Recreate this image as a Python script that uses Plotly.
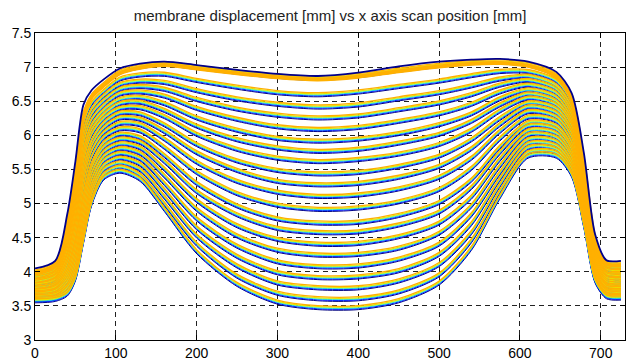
import plotly.graph_objects as go

# scan positions along x [mm] where the profile was read
x_pos = [0, 25, 40, 50, 60, 70, 85, 105, 130, 160, 200, 250, 300, 350, 400, 450,
         500, 540, 575, 610, 645, 664, 679, 693, 707, 725]

# membrane displacement [mm] per pressure step (top = highest)
band_y = [
    [4.00, 4.12, 4.70, 5.45, 6.30, 6.58, 6.75, 6.93, 7.01, 7.05, 7.00, 6.93, 6.87, 6.84, 6.88, 6.96, 7.03, 7.07, 7.08, 7.04, 6.88, 6.55, 5.60, 4.47, 4.14, 4.12],
    [3.97, 4.08, 4.63, 5.34, 6.17, 6.47, 6.65, 6.83, 6.89, 6.90, 6.81, 6.71, 6.63, 6.60, 6.64, 6.72, 6.80, 6.88, 6.94, 6.94, 6.80, 6.47, 5.53, 4.43, 4.10, 4.08],
    [3.95, 4.05, 4.57, 5.26, 6.07, 6.38, 6.58, 6.75, 6.80, 6.78, 6.66, 6.54, 6.46, 6.42, 6.45, 6.54, 6.63, 6.73, 6.83, 6.87, 6.73, 6.41, 5.48, 4.39, 4.08, 4.06],
    [3.93, 4.03, 4.52, 5.18, 5.98, 6.31, 6.51, 6.68, 6.72, 6.68, 6.53, 6.39, 6.30, 6.26, 6.29, 6.38, 6.48, 6.60, 6.74, 6.81, 6.68, 6.35, 5.44, 4.37, 4.05, 4.03],
    [3.91, 4.00, 4.47, 5.10, 5.89, 6.23, 6.44, 6.61, 6.64, 6.58, 6.40, 6.24, 6.13, 6.09, 6.12, 6.21, 6.32, 6.46, 6.64, 6.74, 6.62, 6.30, 5.39, 4.34, 4.03, 4.01],
    [3.88, 3.98, 4.42, 5.03, 5.79, 6.15, 6.37, 6.53, 6.56, 6.47, 6.26, 6.08, 5.96, 5.92, 5.95, 6.03, 6.16, 6.32, 6.54, 6.67, 6.56, 6.24, 5.35, 4.31, 4.00, 3.98],
    [3.87, 3.95, 4.38, 4.96, 5.71, 6.08, 6.31, 6.47, 6.49, 6.37, 6.14, 5.94, 5.82, 5.77, 5.80, 5.89, 6.02, 6.21, 6.45, 6.61, 6.50, 6.19, 5.31, 4.28, 3.98, 3.96],
    [3.85, 3.93, 4.33, 4.89, 5.63, 6.01, 6.25, 6.40, 6.41, 6.28, 6.02, 5.80, 5.67, 5.62, 5.65, 5.73, 5.87, 6.08, 6.36, 6.55, 6.45, 6.14, 5.27, 4.25, 3.96, 3.94],
    [3.82, 3.90, 4.27, 4.80, 5.53, 5.92, 6.18, 6.33, 6.32, 6.16, 5.87, 5.63, 5.49, 5.44, 5.46, 5.55, 5.70, 5.94, 6.25, 6.48, 6.39, 6.08, 5.22, 4.22, 3.93, 3.91],
    [3.81, 3.88, 4.23, 4.73, 5.44, 5.85, 6.11, 6.26, 6.24, 6.06, 5.75, 5.49, 5.33, 5.28, 5.30, 5.39, 5.55, 5.81, 6.16, 6.42, 6.33, 6.03, 5.17, 4.19, 3.91, 3.89],
    [3.78, 3.85, 4.17, 4.65, 5.35, 5.77, 6.04, 6.18, 6.16, 5.95, 5.61, 5.33, 5.17, 5.11, 5.13, 5.22, 5.39, 5.67, 6.06, 6.35, 6.27, 5.97, 5.13, 4.16, 3.88, 3.86],
    [3.76, 3.82, 4.12, 4.56, 5.24, 5.68, 5.97, 6.10, 6.07, 5.83, 5.46, 5.15, 4.98, 4.92, 4.94, 5.03, 5.21, 5.52, 5.95, 6.27, 6.21, 5.90, 5.07, 4.13, 3.85, 3.83],
    [3.73, 3.79, 4.06, 4.47, 5.13, 5.58, 5.89, 6.02, 5.97, 5.71, 5.30, 4.97, 4.78, 4.72, 4.73, 4.83, 5.02, 5.35, 5.83, 6.19, 6.14, 5.84, 5.02, 4.09, 3.82, 3.80],
    [3.72, 3.77, 4.01, 4.41, 5.05, 5.52, 5.83, 5.95, 5.90, 5.62, 5.18, 4.84, 4.64, 4.58, 4.59, 4.69, 4.88, 5.24, 5.75, 6.14, 6.09, 5.79, 4.98, 4.07, 3.80, 3.78],
    [3.70, 3.74, 3.96, 4.33, 4.96, 5.44, 5.76, 5.88, 5.82, 5.51, 5.05, 4.68, 4.48, 4.41, 4.42, 4.52, 4.72, 5.10, 5.65, 6.07, 6.03, 5.73, 4.93, 4.04, 3.78, 3.76],
    [3.68, 3.72, 3.91, 4.25, 4.87, 5.36, 5.69, 5.81, 5.74, 5.41, 4.92, 4.53, 4.32, 4.25, 4.26, 4.35, 4.57, 4.97, 5.55, 6.01, 5.97, 5.68, 4.89, 4.01, 3.75, 3.73],
    [3.66, 3.69, 3.86, 4.18, 4.78, 5.28, 5.63, 5.74, 5.66, 5.30, 4.78, 4.38, 4.15, 4.08, 4.09, 4.19, 4.41, 4.84, 5.45, 5.94, 5.91, 5.62, 4.84, 3.98, 3.73, 3.71],
    [3.64, 3.67, 3.81, 4.10, 4.69, 5.21, 5.56, 5.67, 5.58, 5.20, 4.65, 4.23, 3.99, 3.92, 3.93, 4.02, 4.26, 4.71, 5.36, 5.88, 5.85, 5.57, 4.80, 3.95, 3.71, 3.69],
    [3.62, 3.64, 3.77, 4.03, 4.61, 5.14, 5.50, 5.60, 5.50, 5.10, 4.53, 4.09, 3.84, 3.77, 3.77, 3.87, 4.11, 4.58, 5.27, 5.82, 5.80, 5.52, 4.76, 3.92, 3.68, 3.66],
    [3.60, 3.62, 3.72, 3.96, 4.52, 5.06, 5.43, 5.54, 5.42, 5.00, 4.41, 3.94, 3.69, 3.61, 3.61, 3.71, 3.96, 4.46, 5.18, 5.75, 5.75, 5.46, 4.72, 3.89, 3.66, 3.64],
    [3.58, 3.60, 3.68, 3.90, 4.45, 5.00, 5.38, 5.48, 5.36, 4.92, 4.30, 3.82, 3.56, 3.48, 3.48, 3.58, 3.84, 4.35, 5.10, 5.70, 5.70, 5.42, 4.68, 3.87, 3.64, 3.62],
]

# outermost (last, dark blue) scan at the highest pressure
envelope_y = [4.05, 4.16, 4.85, 5.62, 6.45, 6.66, 6.82, 6.98, 7.05, 7.08, 7.03, 6.96, 6.90,
              6.87, 6.92, 7.01, 7.08, 7.11, 7.12, 7.08, 6.93, 6.62, 5.75, 4.55, 4.17, 4.16]

# repeated scans of each pressure step: colour and offset [mm]
scan_colors = ["#00007f", "#0010ff", "#00bfff", "#80ff80", "#e8e400", "#ffb000"]
scan_offsets = [-0.035, -0.022, -0.01, 0.0, 0.01, 0.025]
scan_widths = [1.0, 1.0, 1.0, 1.0, 1.1, 1.3]

x_ticks = [0, 100, 200, 300, 400, 500, 600, 700]
y_ticks = [3, 3.5, 4, 4.5, 5, 5.5, 6, 6.5, 7, 7.5]

fig = go.Figure()
for color, off, w in zip(scan_colors, scan_offsets, scan_widths):
    xs, ys = [], []
    for band in band_y:
        xs += x_pos + [None]
        ys += [v + off for v in band] + [None]
    fig.add_trace(go.Scatter(x=xs, y=ys, mode="lines", connectgaps=False,
                             line=dict(color=color, width=w, shape="spline", smoothing=0.8),
                             hoverinfo="skip"))

# thick top cluster
fig.add_trace(go.Scatter(x=x_pos, y=[v - 0.02 for v in band_y[0]], mode="lines",
                         line=dict(color="#ffb000", width=4, shape="spline", smoothing=0.8),
                         hoverinfo="skip"))
fig.add_trace(go.Scatter(x=x_pos, y=envelope_y, mode="lines",
                         line=dict(color="#00008b", width=1.8, shape="spline", smoothing=0.8),
                         hoverinfo="skip"))

axis_common = dict(showgrid=True, gridcolor="#222222", griddash="5px,4px", gridwidth=1,
                   zeroline=False, showline=True, linecolor="black", linewidth=1,
                   mirror="ticks", ticks="inside", ticklen=5, tickcolor="black",
                   automargin=False,
                   tickfont=dict(family="Liberation Sans, Arial, sans-serif", size=14, color="black"))

# the page body adds an 8 px margin, so the figure is 8 px smaller than the window
fig.update_layout(
    width=627, height=353,
    margin=dict(l=27, r=10, t=25, b=21),
    paper_bgcolor="white", plot_bgcolor="white",
    showlegend=False,
    title=dict(text="membrane displacement [mm] vs x axis scan position [mm]",
               x=0.5, xref="paper", xanchor="center", y=1 - 8 / 353, yref="container",
               yanchor="middle",
               font=dict(family="Liberation Sans, Arial, sans-serif", size=15, color="#222222")),
    xaxis=dict(range=[0, 730], tickvals=x_ticks, **axis_common),
    yaxis=dict(range=[3, 7.5], tickvals=y_ticks, **axis_common),
)

fig.write_html("out.html")
